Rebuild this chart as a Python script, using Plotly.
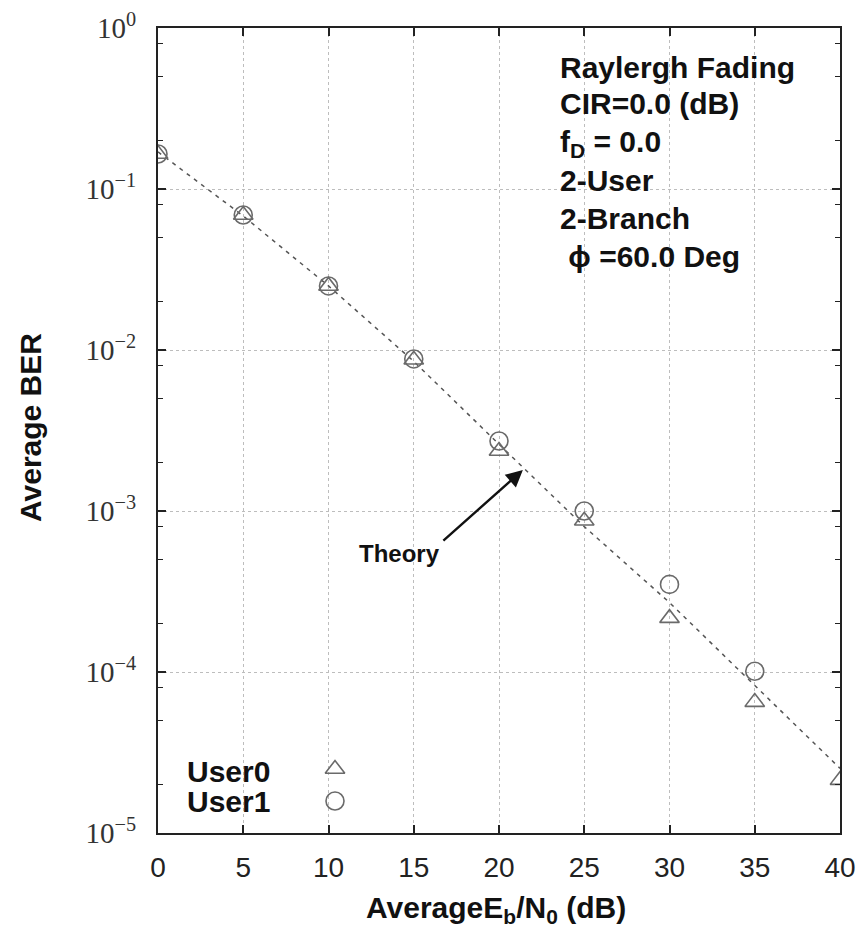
import plotly.graph_objects as go

# ---- data ----
snr_db = [0, 5, 10, 15, 20, 25, 30, 35, 40]
user0_x = [0, 5, 10, 15, 20, 25, 30, 35, 40]
user0_ber = [0.165, 0.069, 0.025, 0.0087, 0.00236, 0.00087, 0.000216, 0.000065, 0.0000213]
user1_x = [0, 5, 10, 15, 20, 25, 30, 35]
user1_ber = [0.165, 0.069, 0.025, 0.0088, 0.00272, 0.00100, 0.000350, 0.000101]
theory_ber = [0.17, 0.068, 0.025, 0.0085, 0.0026, 0.00080, 0.00027, 0.000083, 0.0000252]

x_ticks = [0, 5, 10, 15, 20, 25, 30, 35, 40]
y_ticks = [1, 1e-1, 1e-2, 1e-3, 1e-4, 1e-5]
y_ticktext = ["10<sup>0</sup>", "10<sup>−1</sup>", "10<sup>−2</sup>",
              "10<sup>−3</sup>", "10<sup>−4</sup>", "10<sup>−5</sup>"]
minor_y = [m * 10.0 ** e for e in range(-5, 0) for m in (2, 5, 8)]

info_lines = ["Raylergh Fading", "CIR=0.0 (dB)", "f<sub>D</sub> = 0.0",
              "2-User", "2-Branch", " ϕ =60.0 Deg"]
legend_names = ["User0", "User1"]

W, H = 859, 931
L, R, T, B = 158, 840, 28, 833


def px(xp):
    return (xp - L) / (R - L)


def py(yp):
    return (B - yp) / (B - T)


MK = "#6a6a6a"
fig = go.Figure()
fig.add_trace(go.Scatter(x=snr_db, y=theory_ber, mode="lines",
                         line=dict(color="#555555", width=1.5, dash="4px,5px"),
                         showlegend=False, hoverinfo="skip"))
fig.add_trace(go.Scatter(x=user0_x, y=user0_ber, mode="markers",
                         marker=dict(symbol="triangle-up-open", size=17,
                                     color=MK, line=dict(width=1.6, color=MK)),
                         showlegend=False))
fig.add_trace(go.Scatter(x=user1_x, y=user1_ber, mode="markers",
                         marker=dict(symbol="circle-open", size=18,
                                     color=MK, line=dict(width=1.6, color=MK)),
                         showlegend=False))
# legend symbols on overlay axes (fractional)
fig.add_trace(go.Scatter(x=[px(335)], y=[py(769)], xaxis="x2", yaxis="y2",
                         mode="markers",
                         marker=dict(symbol="triangle-up-open", size=17, color=MK,
                                     line=dict(width=1.6, color=MK)),
                         showlegend=False, hoverinfo="skip"))
fig.add_trace(go.Scatter(x=[px(335)], y=[py(801)], xaxis="x2", yaxis="y2",
                         mode="markers",
                         marker=dict(symbol="circle-open", size=18, color=MK,
                                     line=dict(width=1.6, color=MK)),
                         showlegend=False, hoverinfo="skip"))

annotations = []
info_y = [68, 104, 143, 181, 218, 256]
for txt, yy in zip(info_lines, info_y):
    annotations.append(dict(x=px(558), y=py(yy), xref="paper", yref="paper",
                            xanchor="left", yanchor="middle", showarrow=False,
                            text="<b>" + txt + "</b>",
                            font=dict(family="Liberation Sans", size=30, color="#111")))
for txt, yy in zip(legend_names, [771, 801]):
    annotations.append(dict(x=px(185), y=py(yy), xref="paper", yref="paper",
                            xanchor="left", yanchor="middle", showarrow=False,
                            text="<b>" + txt + "</b>",
                            font=dict(family="Liberation Sans", size=30, color="#111")))
# Theory arrow
annotations.append(dict(x=21.4, y=-2.745, xref="x", yref="y", text="",
                        showarrow=True, arrowhead=2, arrowsize=1.4, arrowwidth=2.4,
                        arrowcolor="#111", ax=-81, ay=72))
annotations.append(dict(x=px(399), y=py(553), xref="paper", yref="paper",
                        xanchor="center", yanchor="middle", showarrow=False,
                        text="<b>Theory</b>",
                        font=dict(family="Liberation Sans", size=24, color="#111")))
# y-axis title as annotation for precise placement
annotations.append(dict(x=px(30), y=py(428), xref="paper", yref="paper",
                        xanchor="center", yanchor="middle", showarrow=False,
                        textangle=-90, text="<b>Average BER</b>",
                        font=dict(family="Liberation Sans", size=30, color="#111")))
# x-axis title
annotations.append(dict(x=px(496), y=py(909), xref="paper", yref="paper",
                        xanchor="center", yanchor="middle", showarrow=False,
                        text="<b>AverageE<sub>b</sub>/N<sub>0</sub> (dB)</b>",
                        font=dict(family="Liberation Sans", size=30, color="#111")))

fig.update_layout(
    width=W, height=H,
    margin=dict(l=L, r=W - R, t=T, b=H - B),
    paper_bgcolor="white", plot_bgcolor="white",
    showlegend=False,
    annotations=annotations,
    xaxis=dict(range=[0, 40], tickvals=x_ticks, ticks="inside", ticklen=8,
               tickwidth=1.5, tickcolor="#222", mirror="ticks", showline=True,
               linecolor="#222", linewidth=2, showgrid=True, gridcolor="#bdbdbd",
               griddash="dot", gridwidth=1, zeroline=False, automargin=False,
               ticklabelstandoff=8,
               tickfont=dict(family="Liberation Sans", size=28, color="#222")),
    yaxis=dict(type="log", range=[-5, 0], tickvals=y_ticks, ticktext=y_ticktext,
               ticks="inside", ticklen=8, tickwidth=1.5, tickcolor="#222",
               mirror="ticks", showline=True, linecolor="#222", linewidth=2,
               showgrid=True, gridcolor="#bdbdbd", griddash="dot", gridwidth=1,
               zeroline=False, automargin=False, ticklabelstandoff=14,
               minor=dict(tickmode="array", tickvals=minor_y, ticks="inside",
                          ticklen=5, tickwidth=1.2, tickcolor="#222", showgrid=False),
               tickfont=dict(family="Liberation Serif", size=29, color="#333")),
    xaxis2=dict(overlaying="x", range=[0, 1], visible=False),
    yaxis2=dict(overlaying="y", range=[0, 1], visible=False),
)

fig.write_html("out.html")
